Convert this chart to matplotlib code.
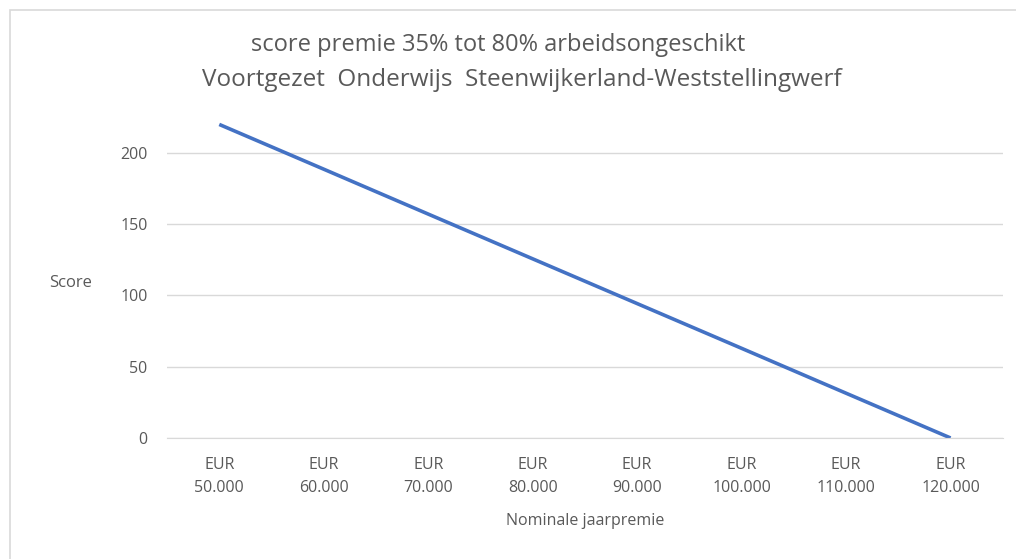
import matplotlib.pyplot as plt
from matplotlib.patches import Rectangle

# data
premies = ["EUR\n50.000", "EUR\n60.000", "EUR\n70.000", "EUR\n80.000",
           "EUR\n90.000", "EUR\n100.000", "EUR\n110.000", "EUR\n120.000"]
scores = [220, 188.6, 157.1, 125.7, 94.3, 62.9, 31.4, 0]
y_ticks = [0, 50, 100, 150, 200]

txt = '#595959'
plt.rcParams['font.family'] = ['Open Sans', 'DejaVu Sans']

fig = plt.figure(figsize=(10.16, 5.59), dpi=100)
ax = fig.add_axes([0.1644, 0.2165, 0.8226, 0.566])

# chart border
fig.patches.append(Rectangle((10/1016, -0.1), 1.2, 1 - 10/559 + 0.1,
                             transform=fig.transFigure, fill=False,
                             edgecolor='#D9D9D9', linewidth=1.2))

x = list(range(len(premies)))
ax.plot(x, scores, color='#4472C4', linewidth=2.6, solid_capstyle='butt')

ax.set_xlim(-0.5, len(premies) - 0.5)
ax.set_ylim(0, 222)
ax.set_yticks(y_ticks)
ax.set_xticks(x)
ax.set_xticklabels(premies, fontsize=11.5, color=txt, linespacing=1.55)
ax.tick_params(axis='y', labelsize=11.5, labelcolor=txt, length=0, pad=14)
ax.tick_params(axis='x', length=0, pad=14)
ax.grid(axis='y', color='#D9D9D9', linewidth=1)
ax.set_axisbelow(True)
for s in ['top', 'right', 'left']:
    ax.spines[s].set_visible(False)
ax.spines['bottom'].set_color('#D9D9D9')

ax.set_xlabel('Nominale jaarpremie', fontsize=11.5, color=txt, labelpad=12)
fig.text(71/1016, 1 - 283/559, 'Score', fontsize=12, color=txt,
         ha='center', va='center')

fig.text(498/1016, 1 - 45/559, 'score premie 35% tot 80% arbeidsongeschikt',
         fontsize=17, color=txt, ha='center', va='center')
fig.text(522/1016, 1 - 80/559, 'Voortgezet  Onderwijs  Steenwijkerland-Weststellingwerf',
         fontsize=17.5, color=txt, ha='center', va='center')

fig.savefig('out.png', dpi=100)
